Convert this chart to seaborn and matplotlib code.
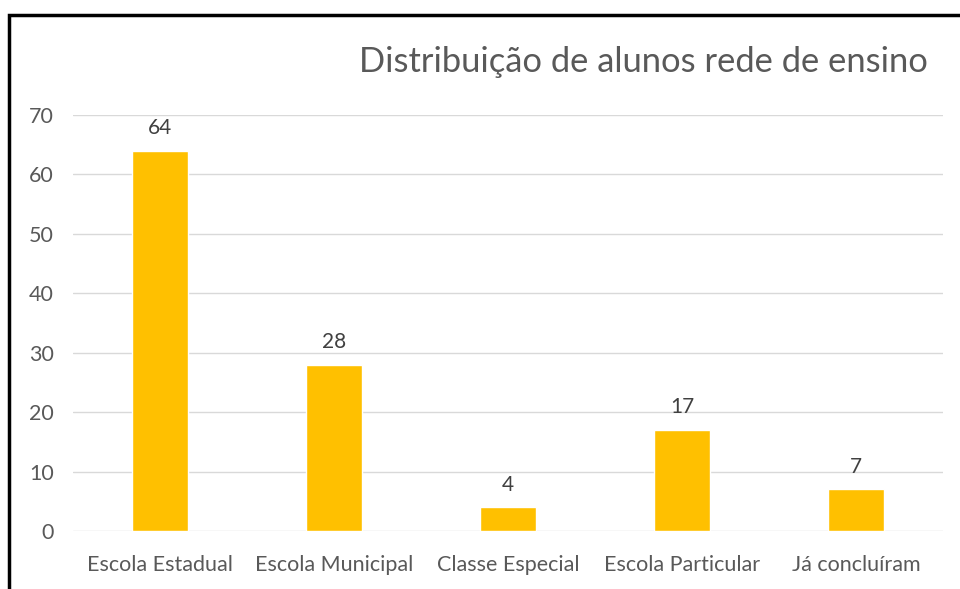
import matplotlib
matplotlib.use("Agg")
import matplotlib.pyplot as plt
import seaborn as sns
import pandas as pd
from matplotlib.patches import Rectangle

categorias = ["Escola Estadual", "Escola Municipal", "Classe Especial", "Escola Particular", "Já concluíram"]
alunos = [64, 28, 4, 17, 7]
y_ticks = [0, 10, 20, 30, 40, 50, 60, 70]

df = pd.DataFrame({"categoria": categorias, "alunos": alunos})

sns.set_style("white")
plt.rcParams['font.family'] = ['Lato', 'DejaVu Sans']

fig = plt.figure(figsize=(9.6, 5.89), dpi=100)
ax = fig.add_axes([73/960, 1 - 531/589, 870/960, 416/589])

sns.barplot(data=df, x="categoria", y="alunos", color="#FFC000", width=0.322,
            saturation=1, ax=ax, zorder=3)

ax.set_ylim(0, 70)
ax.set_xlim(-0.5, 4.5)
ax.set_yticks(y_ticks)
ax.grid(axis="y", color="#d9d9d9", linewidth=1, zorder=0)
for s in ax.spines.values():
    s.set_visible(False)
ax.set_xlabel("")
ax.set_ylabel("")
ax.tick_params(axis="both", length=0, labelsize=15.5, labelcolor="#595959")
ax.tick_params(axis="y", pad=14)
ax.tick_params(axis="x", pad=17)

for c in ax.containers:
    ax.bar_label(c, padding=9, fontsize=15, color="#404040")

fig.text(928/960, 1 - 62/589, "Distribuição de alunos rede de ensino", ha="right", va="center",
         fontsize=24.8, color="#595959")

# borda preta do quadro
fig.patches.append(Rectangle((9/960, -0.1), 1.2, 1 - 15/589 + 0.1, transform=fig.transFigure,
                             fill=False, edgecolor="black", linewidth=2.5))

fig.savefig("out.png", dpi=100)
